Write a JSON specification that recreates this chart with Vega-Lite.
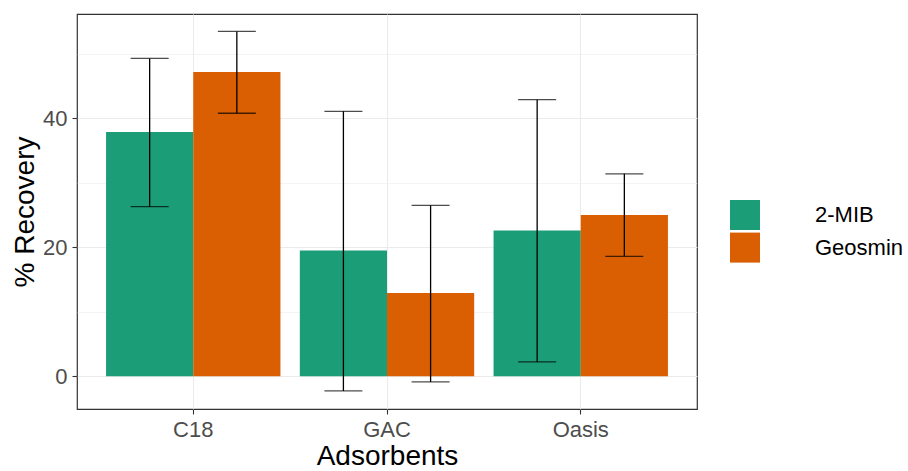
{
  "$schema": "https://vega.github.io/schema/vega-lite/v6.json",
  "width": 620,
  "height": 395,
  "autosize": {"type": "none"},
  "padding": {"left": 77, "top": 14, "right": 211, "bottom": 62},
  "background": "white",
  "config": {
    "font": "Liberation Sans",
    "view": {"stroke": "#333333", "strokeWidth": 1.2},
    "axis": {
      "domain": false,
      "labelFont": "Liberation Sans",
      "labelFontSize": 22,
      "labelColor": "#4D4D4D",
      "titleFont": "Liberation Sans",
      "titleFontSize": 28,
      "titleFontWeight": "normal",
      "titleColor": "#000000",
      "tickColor": "#333333",
      "tickWidth": 1.1,
      "tickSize": 5,
      "gridColor": "#EBEBEB"
    }
  },
  "data": {
    "values": [
      {"Adsorbent": "C18", "Compound": "2-MIB", "Recovery": 37.9, "Lower": 26.3, "Upper": 49.3},
      {"Adsorbent": "C18", "Compound": "Geosmin", "Recovery": 47.2, "Lower": 40.8, "Upper": 53.5},
      {"Adsorbent": "GAC", "Compound": "2-MIB", "Recovery": 19.5, "Lower": -2.3, "Upper": 41.1},
      {"Adsorbent": "GAC", "Compound": "Geosmin", "Recovery": 12.9, "Lower": -0.9, "Upper": 26.5},
      {"Adsorbent": "Oasis", "Compound": "2-MIB", "Recovery": 22.6, "Lower": 2.2, "Upper": 42.9},
      {"Adsorbent": "Oasis", "Compound": "Geosmin", "Recovery": 25.0, "Lower": 18.6, "Upper": 31.4}
    ]
  },
  "encoding": {
    "x": {
      "field": "Adsorbent",
      "type": "nominal",
      "scale": {"paddingInner": 0.1, "paddingOuter": 0.15},
      "axis": {
        "title": "Adsorbents",
        "labelAngle": 0,
        "grid": true,
        "gridWidth": 1.1,
        "labelPadding": 5,
        "titlePadding": 2
      }
    },
    "xOffset": {"field": "Compound", "type": "nominal", "scale": {"paddingInner": 0, "paddingOuter": 0}}
  },
  "layer": [
    {
      "mark": {"type": "bar"},
      "encoding": {
        "y": {
          "field": "Recovery",
          "type": "quantitative",
          "scale": {"domain": [-5.1, 56.2], "nice": false, "zero": false},
          "axis": {
            "title": "% Recovery",
            "values": [0, 10, 20, 30, 40, 50],
            "labelExpr": "datum.value % 20 === 0 ? datum.label : ''",
            "tickOpacity": {"condition": {"test": "datum.value % 20 !== 0", "value": 0}, "value": 1},
            "gridWidth": {"condition": {"test": "datum.value % 20 === 0", "value": 1.1}, "value": 0.55},
            "labelPadding": 5,
            "titlePadding": 3
          }
        },
        "color": {
          "field": "Compound",
          "type": "nominal",
          "scale": {"range": ["#1B9E77", "#D95F02"]},
          "legend": {
            "title": null,
            "orient": "none",
            "legendX": 653,
            "legendY": 186,
            "symbolType": "square",
            "symbolSize": 900,
            "symbolStrokeWidth": 0,
            "symbolOpacity": 1,
            "rowPadding": 2.6,
            "labelOffset": 55,
            "labelFontSize": 22,
            "labelColor": "#000000",
            "labelFont": "Liberation Sans"
          }
        }
      }
    },
    {
      "mark": {"type": "rule", "color": "black", "strokeWidth": 1.3},
      "encoding": {
        "y": {"field": "Lower", "type": "quantitative"},
        "y2": {"field": "Upper"}
      }
    },
    {
      "mark": {"type": "tick", "color": "black", "thickness": 1.3, "size": 38, "orient": "horizontal"},
      "encoding": {
        "y": {"field": "Lower", "type": "quantitative"}
      }
    },
    {
      "mark": {"type": "tick", "color": "black", "thickness": 1.3, "size": 38, "orient": "horizontal"},
      "encoding": {
        "y": {"field": "Upper", "type": "quantitative"}
      }
    }
  ]
}
